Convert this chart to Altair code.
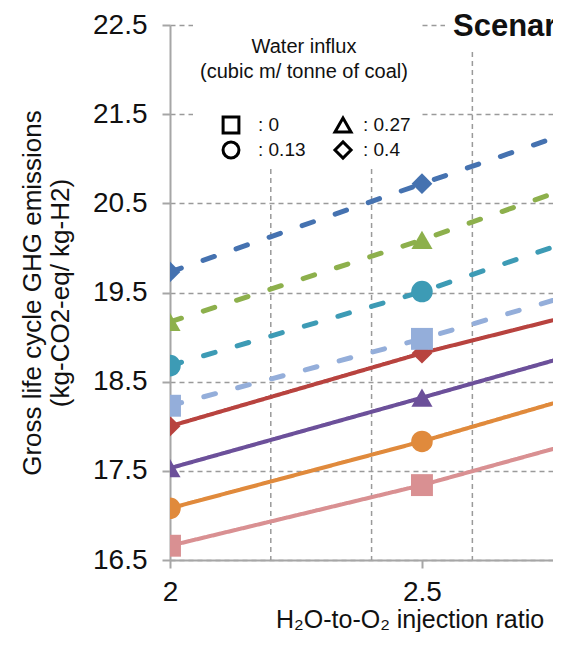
import altair as alt
import pandas as pd

# ---------------- data ----------------
x_ratio = [2.0, 2.5, 3.0]
water_influx = ["0", "0.13", "0.27", "0.4"]
marker_shapes = ["square", "circle", "triangle-up", "diamond"]

# solid lines (lower group)
solid_w0 = [16.66, 17.34, 18.12]
solid_w013 = [17.08, 17.83, 18.65]
solid_w027 = [17.53, 18.32, 19.12]
solid_w04 = [18.00, 18.82, 19.53]
# dashed lines (upper group)
dashed_w0 = [18.23, 18.98, 19.81]
dashed_w013 = [18.68, 19.51, 20.47]
dashed_w027 = [19.17, 20.09, 21.09]
dashed_w04 = [19.73, 20.72, 21.70]

solid_colors = ["#D99092", "#E08A3C", "#6C509A", "#B8433F"]
dashed_colors = ["#94AEDA", "#3D9BB5", "#8DB04C", "#4572B0"]

y_ticks = [16.5, 17.5, 18.5, 19.5, 20.5, 21.5, 22.5]
x_ticks = [2.0, 2.5]
x_grid = [2.2, 2.4, 2.6]

legend_title = ["Water influx", "(cubic m/ tonne of coal)"]
scenario_label = "Scenario 1"
x_title = "H\u2082O-to-O\u2082 injection ratio"
y_title = ["Gross life cycle GHG emissions", "(kg-CO2-eq/ kg-H2)"]

FONT = "Liberation Sans"

# ---------------- tables ----------------
rows = []
series_keys = []
series_colors = []
for style, lists, cols in [
    ("solid", [solid_w0, solid_w013, solid_w027, solid_w04], solid_colors),
    ("dashed", [dashed_w0, dashed_w013, dashed_w027, dashed_w04], dashed_colors),
]:
    for w, vals, c in zip(water_influx, lists, cols):
        key = f"{style}-{w}"
        series_keys.append(key)
        series_colors.append(c)
        for xv, yv in zip(x_ratio, vals):
            rows.append({"ratio": xv, "ghg": yv, "water": w, "style": style, "series": key})
df = pd.DataFrame(rows)

leg = pd.DataFrame({"water": water_influx, "label": [": " + w for w in water_influx]})
leg["idx"] = range(len(leg))

# ---------------- scales / axes ----------------
xscale = alt.Scale(domain=[2.0, 2.76], nice=False, zero=False)
yscale = alt.Scale(domain=[16.5, 22.5], nice=False, zero=False)

xaxis = alt.Axis(values=x_ticks, format="~g", grid=False, tickSize=8, tickColor="#A6A6A6",
                 tickWidth=2, domainColor="#A6A6A6", domainWidth=2, labelFontSize=28,
                 labelFont=FONT, labelColor="#111", labelPadding=10, labelFlush=False,
                 title=None)
yaxis = alt.Axis(values=y_ticks, format=".1f", grid=True, gridDash=[5, 4], gridColor="#9A9A9A",
                 gridWidth=1.5, tickSize=8, tickColor="#A6A6A6", tickWidth=2,
                 domainColor="#A6A6A6", domainWidth=2, labelFontSize=28, labelFont=FONT,
                 labelColor="#111", labelPadding=15, labelFlush=False,
                 title=y_title, titleFont=FONT, titleFontSize=26, titleFontWeight="normal",
                 titleColor="#111", titlePadding=19)

color_enc = alt.Color("series:N", scale=alt.Scale(domain=series_keys, range=series_colors), legend=None)

# vertical dashed grid
vgrid = alt.Chart(pd.DataFrame({"ratio": x_grid})).mark_rule(
    strokeDash=[5, 4], color="#9A9A9A", strokeWidth=1.5
).encode(x=alt.X("ratio:Q", scale=xscale, axis=None))

# white boxes behind legend and scenario title
legend_box = alt.Chart(alt.Data(values=[{}])).mark_rect(color="white").encode(
    x=alt.value(23), x2=alt.value(249), y=alt.value(-8), y2=alt.value(143))
scen_box = alt.Chart(alt.Data(values=[{}])).mark_rect(color="white").encode(
    x=alt.value(275), x2=alt.value(400), y=alt.value(-8), y2=alt.value(25))

lines = alt.Chart(df).mark_line(clip=True, strokeCap="round").encode(
    x=alt.X("ratio:Q", scale=xscale, axis=xaxis),
    y=alt.Y("ghg:Q", scale=yscale, axis=yaxis),
    color=color_enc,
    strokeDash=alt.StrokeDash("style:N", scale=alt.Scale(domain=["solid", "dashed"], range=[[1, 0], [12, 23]]), legend=None),
    strokeWidth=alt.StrokeWidth("style:N", scale=alt.Scale(domain=["solid", "dashed"], range=[4, 5]), legend=None),
    detail="series:N",
    order="ratio:Q",
)

points = alt.Chart(df).mark_point(filled=True, opacity=1, clip=True).encode(
    x=alt.X("ratio:Q", scale=xscale, axis=None),
    y=alt.Y("ghg:Q", scale=yscale, axis=None),
    color=color_enc,
    shape=alt.Shape("water:N", scale=alt.Scale(domain=water_influx, range=marker_shapes), legend=None),
    size=alt.Size("water:N", scale=alt.Scale(domain=water_influx, range=[480, 430, 500, 500]), legend=None),
)

# manual legend
leg_base = alt.Chart(leg).transform_calculate(
    px="61 + 112 * floor(datum.idx / 2)",
    py="100 + 25 * (datum.idx % 2)",
    tx="88 + 105 * floor(datum.idx / 2)",
)
leg_sym = leg_base.mark_point(filled=False, color="black", strokeWidth=3, opacity=1).encode(
    x=alt.X("px:Q", scale=None, axis=None),
    y=alt.Y("py:Q", scale=None, axis=None),
    shape=alt.Shape("water:N", scale=alt.Scale(domain=water_influx, range=marker_shapes), legend=None),
    size=alt.Size("water:N", scale=alt.Scale(domain=water_influx, range=[250, 260, 460, 540]), legend=None),
)
leg_txt = leg_base.mark_text(align="left", baseline="middle", font=FONT, fontSize=19, color="#111").encode(
    x=alt.X("tx:Q", scale=None, axis=None),
    y=alt.Y("py:Q", scale=None, axis=None),
    text="label:N",
)
leg_t1 = alt.Chart(alt.Data(values=[{}])).mark_text(
    text=legend_title[0], align="center", baseline="middle", font=FONT, fontSize=20, color="#111"
).encode(x=alt.value(134), y=alt.value(22))
leg_t2 = alt.Chart(alt.Data(values=[{}])).mark_text(
    text=legend_title[1], align="center", baseline="middle", font=FONT, fontSize=20, color="#111"
).encode(x=alt.value(134), y=alt.value(47))

scen_txt = alt.Chart(alt.Data(values=[{}])).mark_text(
    text=scenario_label, align="left", baseline="middle", font=FONT, fontSize=31,
    fontWeight="bold", color="#111"
).encode(x=alt.value(283), y=alt.value(2))

xtitle_txt = alt.Chart(alt.Data(values=[{}])).mark_text(
    text=x_title, align="left", baseline="alphabetic", font=FONT, fontSize=25, color="#111"
).encode(x=alt.value(106), y=alt.value(603))

chart = alt.layer(
    vgrid, legend_box, scen_box, lines, points, leg_sym, leg_txt, leg_t1, leg_t2, scen_txt, xtitle_txt
).resolve_scale(
    x="independent", y="independent", size="independent"
).properties(
    width=383, height=535,
    autosize=alt.AutoSizeParams(type="none"),
    padding={"left": 162, "top": 17, "right": 0, "bottom": 72},
    background="white",
).configure_view(stroke=None)

chart.save("out.html", embed_options={"renderer": "svg", "actions": False})
